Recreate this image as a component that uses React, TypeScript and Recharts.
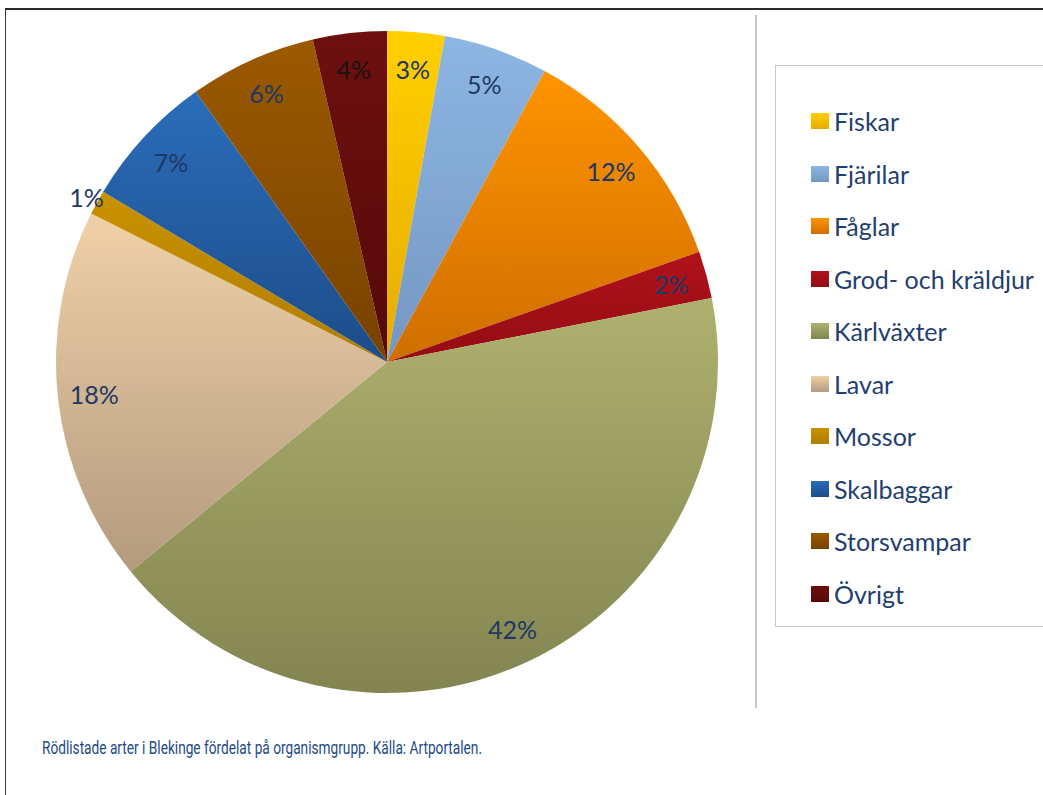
import React from 'react';
import { PieChart, Pie, Cell } from 'recharts';

// organism groups, Excel order (clockwise from 12 o'clock)
const groups = [
  'Fiskar',
  'Fjärilar',
  'Fåglar',
  'Grod- och kräldjur',
  'Kärlväxter',
  'Lavar',
  'Mossor',
  'Skalbaggar',
  'Storsvampar',
  'Övrigt',
];

// share of red-listed species, percent
const shares = [2.8, 5.1, 11.7, 2.3, 42.2, 18.3, 1.2, 6.6, 6.2, 3.6];

// gradient top / bottom colours per slice
const topColors = ['#FFD000', '#8EB6E3', '#FF9400', '#B0121A', '#AEB16E', '#F0D0A8', '#C99200', '#2B6DBA', '#9C5A00', '#6E0F0F'];
const bottomColors = ['#E6AC00', '#7497C2', '#CF6E00', '#930C12', '#828550', '#B39B7E', '#B07E00', '#1C4C88', '#774200', '#560909'];

const caption = 'Rödlistade arter i Blekinge fördelat på organismgrupp. Källa: Artportalen.';

const chartData = groups.map((name, i) => ({ name, value: shares[i] }));

const RAD = Math.PI / 180;

const renderLabel = (props: any) => {
  const { cx, cy, midAngle, outerRadius, percent, index } = props;
  const r = percent < 0.015 ? outerRadius + 12 : outerRadius * 0.89;
  const x = cx + r * Math.cos(-midAngle * RAD);
  const y = cy + r * Math.sin(-midAngle * RAD);
  return (
    <text
      x={x}
      y={y}
      textAnchor="middle"
      dominantBaseline="central"
      fill={index === groups.length - 1 ? '#1A1212' : '#1F3864'}
      fontFamily="Lato, 'Open Sans', sans-serif"
      fontSize={25}
    >
      {`${Math.round(percent * 100)}%`}
    </text>
  );
};

const LegendBox = () => (
  <div
    style={{
      position: 'absolute',
      left: 775,
      top: 65,
      width: 300,
      height: 562,
      border: '1.5px solid #C8C8C8',
      boxSizing: 'border-box',
      background: '#fff',
    }}
  >
    {groups.map((g, i) => (
      <div
        key={g}
        style={{
          position: 'absolute',
          left: 35,
          top: 41 + i * 52.5,
          height: 28,
          display: 'flex',
          alignItems: 'center',
          whiteSpace: 'nowrap',
        }}
      >
        <span
          style={{
            display: 'inline-block',
            width: 18,
            height: 16,
            marginRight: 5,
            background: `linear-gradient(${topColors[i]}, ${bottomColors[i]})`,
          }}
        />
        <span
          style={{
            fontFamily: "Lato, 'Open Sans', sans-serif",
            fontSize: 25,
            color: '#1F3F6E',
          }}
        >
          {g}
        </span>
      </div>
    ))}
  </div>
);

export default function App() {
  return (
    <div
      style={{
        position: 'absolute',
        left: 0,
        top: 0,
        width: 1043,
        height: 795,
        overflow: 'hidden',
        background: '#fff',
      }}
    >
      {/* page frame */}
      <div
        style={{
          position: 'absolute',
          left: 5,
          top: 8,
          width: 1100,
          height: 900,
          borderTop: '2px solid #2B2B2B',
          borderLeft: '1.5px solid #3A3A3A',
        }}
      />
      {/* divider */}
      <div
        style={{
          position: 'absolute',
          left: 755,
          top: 15,
          width: 2,
          height: 693,
          background: '#C8C8C8',
        }}
      />
      <div style={{ position: 'absolute', left: 0, top: 0 }}>
        <PieChart width={750} height={720} margin={{ top: 0, right: 0, bottom: 0, left: 0 }}>
          <defs>
            {groups.map((g, i) => (
              <linearGradient key={g} id={`grad-${i}`} x1="0" y1="0" x2="0" y2="1">
                <stop offset="0%" stopColor={topColors[i]} />
                <stop offset="100%" stopColor={bottomColors[i]} />
              </linearGradient>
            ))}
          </defs>
          <Pie
            data={chartData}
            dataKey="value"
            nameKey="name"
            cx={387}
            cy={362}
            outerRadius={331}
            startAngle={90}
            endAngle={-270}
            stroke="none"
            label={renderLabel}
            labelLine={false}
            isAnimationActive={false}
          >
            {chartData.map((d, i) => (
              <Cell key={d.name} fill={`url(#grad-${i})`} />
            ))}
          </Pie>
        </PieChart>
      </div>
      <LegendBox />
      <svg width={740} height={40} style={{ position: 'absolute', left: 0, top: 730 }}>
        <text
          x={42}
          y={24}
          fontFamily="Roboto, 'DejaVu Sans Condensed', sans-serif"
          fontSize={18}
          fill="#1C4A85"
          textLength={440}
          lengthAdjust="spacingAndGlyphs"
        >
          {caption}
        </text>
      </svg>
    </div>
  );
}
